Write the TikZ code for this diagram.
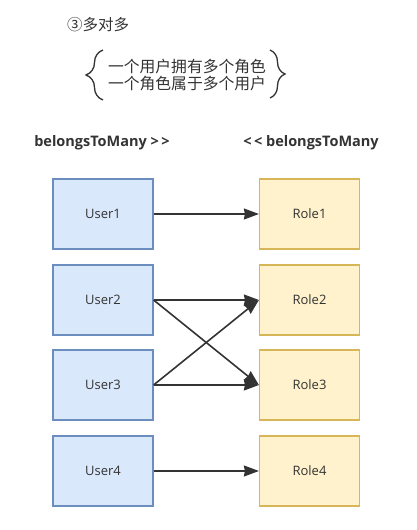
\documentclass[tikz,border=0pt]{standalone}
\usepackage{fontspec}
\setmainfont{Open Sans}[Ligatures=NoCommon]
\newfontfamily\cjk{Noto Sans CJK SC}
\usetikzlibrary{arrows.meta,decorations.pathreplacing}
\definecolor{txtgray}{HTML}{333333}
\definecolor{userfill}{HTML}{DAE8FC}
\definecolor{userline}{HTML}{6C8EBF}
\definecolor{rolefill}{HTML}{FFF2CC}
\definecolor{roleline}{HTML}{D6B656}
\tikzset{
  userbox/.style={draw=userline,fill=userfill,line width=1.2pt,minimum width=100pt,minimum height=70pt,inner sep=0pt,text=txtgray,font=\fontsize{13}{15}\selectfont},
  rolebox/.style={draw=roleline,fill=rolefill,line width=1.2pt,minimum width=100pt,minimum height=70pt,inner sep=0pt,text=txtgray,font=\fontsize{13}{15}\selectfont},
  link/.style={draw=txtgray,line width=1.6pt,-{Stealth[length=15pt,width=11pt,inset=1pt]}}
}
\begin{document}
\begin{tikzpicture}[x=1pt,y=-1pt]
  \useasboundingbox (0,0) rectangle (416,530);
  % titre et relation
  \node[text=txtgray,font=\cjk\fontsize{15.5}{17}\selectfont] (titre) at (98,25) {③多对多};
  \node[text=txtgray,font=\cjk\fontsize{15.8}{17}\selectfont,align=left,inner sep=0pt] (rel) at (187,75)
    {一个用户拥有多个角色\\一个角色属于多个用户};
  \draw[txtgray,line width=1.3pt,decorate,decoration={brace,amplitude=17pt}] (103,100) -- (103,50);
  \draw[txtgray,line width=1.3pt,decorate,decoration={brace,amplitude=15pt}] (270,50) -- (270,98);
  % en-tetes
  \node[text=txtgray,font=\bfseries\fontsize{14.5}{16}\selectfont] (hleft) at (102,143) {belongsToMany {>}\kern2.5pt{>}};
  \node[text=txtgray,font=\bfseries\fontsize{14.5}{16}\selectfont] (hright) at (311,143) {{<}\kern2.5pt{<} belongsToMany};
  % boites
  \node[userbox] (user1) at (103,214) {User1};
  \node[userbox] (user2) at (103,300) {User2};
  \node[userbox] (user3) at (103,385) {User3};
  \node[userbox] (user4) at (103,471) {User4};
  \node[rolebox] (role1) at (309.5,214) {Role1};
  \node[rolebox] (role2) at (309.5,300) {Role2};
  \node[rolebox] (role3) at (309.5,385) {Role3};
  \node[rolebox] (role4) at (309.5,471) {Role4};
  % liens
  \draw[link] (user1.east) -- (role1.west);
  \draw[link] (user2.east) -- (role2.west);
  \draw[link] (user2.east) -- (role3.west);
  \draw[link] (user3.east) -- (role2.west);
  \draw[link] (user3.east) -- (role3.west);
  \draw[link] (user4.east) -- (role4.west);
\end{tikzpicture}
\end{document}
